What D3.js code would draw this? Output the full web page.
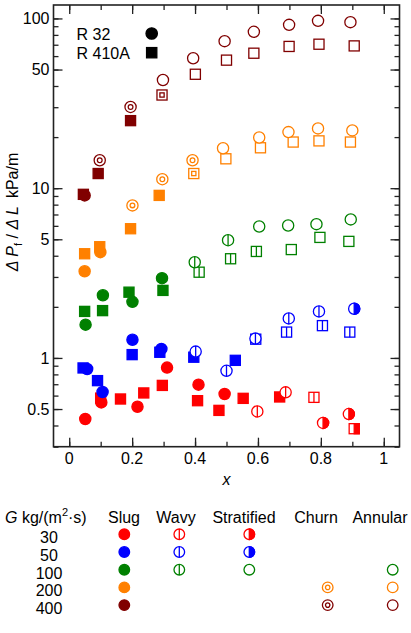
<!DOCTYPE html>
<html>
<head>
<meta charset="utf-8">
<script src="https://cdn.jsdelivr.net/npm/d3@7"></script>
<style>
body { margin: 0; background: #fff; }
text { font-family: "Liberation Sans", Arial, sans-serif; fill: #000; }
</style>
</head>
<body>
<div id="chart"></div>
<script>
var massFlux = [30, 50, 100, 200, 400];
var fluxColors = ["#ff0000", "#0000ff", "#008000", "#ff8000", "#800000"];
var regimes = ["Slug", "Wavy", "Stratified", "Churn", "Annular"];
var refrigerants = ["R 32", "R 410A"];

// symbol of each regime for a G row (null = not observed)
var symbolsG30 = ["filled", "bar", "half", null, null];
var symbolsG50 = ["filled", "bar", "half", null, null];
var symbolsG100 = ["filled", "bar", "open", null, "open"];
var symbolsG200 = ["filled", null, null, "double", "open"];
var symbolsG400 = ["filled", null, null, "double", "open"];

var xTicks = [0, 0.2, 0.4, 0.6, 0.8, 1];
var yTickLabels = [0.5, 1, 5, 10, 50, 100];

// [vapour quality x, dP/dL kPa/m, regime index]
var r32G30 = [[0.051, 0.437, 0], [0.102, 0.547, 0], [0.217, 0.516, 0], [0.311, 0.877, 0], [0.411, 0.696, 0],
  [0.494, 0.613, 0], [0.598, 0.484, 1], [0.688, 0.627, 1], [0.807, 0.414, 2], [0.889, 0.467, 2]];
var r32G50 = [[0.057, 0.861, 0], [0.106, 0.63, 0], [0.201, 1.28, 0], [0.293, 1.13, 0], [0.402, 1.09, 1],
  [0.50, 0.84, 1], [0.592, 1.30, 1], [0.698, 1.71, 1], [0.794, 1.88, 1], [0.906, 1.95, 2]];
var r32G100 = [[0.052, 1.57, 0], [0.107, 2.34, 0], [0.201, 2.14, 0], [0.295, 2.95, 0], [0.399, 3.66, 1],
  [0.505, 4.94, 1], [0.604, 5.95, 4], [0.696, 6.03, 4], [0.786, 6.14, 4], [0.895, 6.55, 4]];
var r32G200 = [[0.049, 3.24, 0], [0.099, 4.20, 0], [0.201, 7.92, 3], [0.296, 11.3, 3], [0.392, 14.6, 3],
  [0.489, 17.2, 4], [0.604, 19.9, 4], [0.697, 21.4, 4], [0.791, 22.5, 4], [0.900, 21.9, 4]];
var r32G400 = [[0.049, 9.07, 0], [0.097, 14.6, 3], [0.195, 30.1, 3], [0.298, 43.4, 4], [0.394, 58.3, 4],
  [0.494, 73.5, 4], [0.587, 83.4, 4], [0.699, 91.7, 4], [0.791, 96.8, 4], [0.894, 95.1, 4]];

var r410aG30 = [[0.100, 0.58, 0], [0.163, 0.573, 0], [0.237, 0.622, 0], [0.296, 0.689, 0], [0.408, 0.56, 0],
  [0.476, 0.491, 0], [0.553, 0.578, 0], [0.669, 0.589, 0], [0.778, 0.586, 1], [0.906, 0.383, 2]];
var r410aG50 = [[0.044, 0.873, 0], [0.090, 0.735, 0], [0.200, 1.046, 0], [0.288, 1.08, 0], [0.396, 1.01, 0],
  [0.528, 0.968, 0], [0.593, 1.29, 1], [0.691, 1.42, 1], [0.805, 1.55, 1], [0.892, 1.42, 1]];
var r410aG100 = [[0.049, 1.88, 0], [0.106, 1.90, 0], [0.190, 2.44, 0], [0.298, 2.50, 0], [0.413, 3.20, 1],
  [0.513, 3.84, 1], [0.595, 4.24, 1], [0.706, 4.35, 4], [0.797, 5.13, 4], [0.889, 4.86, 4]];
var r410aG200 = [[0.049, 4.11, 0], [0.097, 4.52, 0], [0.195, 5.77, 0], [0.286, 9.07, 0], [0.396, 12.2, 3],
  [0.498, 14.9, 4], [0.608, 17.3, 4], [0.712, 18.7, 4], [0.794, 19.0, 4], [0.894, 18.7, 4]];
var r410aG400 = [[0.045, 9.2, 0], [0.092, 12.2, 0], [0.195, 25.0, 0], [0.295, 35.4, 3], [0.401, 46.9, 4],
  [0.50, 56.8, 4], [0.587, 62.4, 4], [0.699, 68.4, 4], [0.794, 70.5, 4], [0.906, 68.9, 4]];

var symbolRows = [symbolsG30, symbolsG50, symbolsG100, symbolsG200, symbolsG400];
var r32Series = [r32G30, r32G50, r32G100, r32G200, r32G400];
var r410aSeries = [r410aG30, r410aG50, r410aG100, r410aG200, r410aG400];

var width = 411, height = 633;
var plot = { left: 53.5, right: 399.5, top: 5, bottom: 446.7 };

var svg = d3.select("#chart").append("svg")
    .attr("width", width)
    .attr("height", height);

var x = d3.scaleLinear().domain([-0.05, 1.05]).range([plot.left, plot.right]);
var y = d3.scaleLog().domain([0.3, 120]).range([plot.bottom, plot.top]);

// draws one marker centred at 0,0 inside g
function drawMarker(g, shape, style, color, r) {
    var sw = 1.3;
    var fill = style === "filled" ? color : "#fff";
    if (shape === "circle") {
        g.append("circle").attr("r", r).attr("fill", fill).attr("stroke", color).attr("stroke-width", sw);
        if (style === "bar") {
            g.append("line").attr("x1", 0).attr("x2", 0).attr("y1", -r).attr("y2", r)
                .attr("stroke", color).attr("stroke-width", sw);
        } else if (style === "half") {
            g.append("path").attr("d", "M0," + (-r) + "A" + r + "," + r + " 0 0 1 0," + r + "Z")
                .attr("fill", color).attr("stroke", color).attr("stroke-width", sw);
        } else if (style === "double") {
            g.append("circle").attr("r", r * 0.42).attr("fill", "none")
                .attr("stroke", color).attr("stroke-width", sw);
        }
    } else {
        var s = r * 0.9;
        g.append("rect").attr("x", -s).attr("y", -s).attr("width", 2 * s).attr("height", 2 * s)
            .attr("fill", fill).attr("stroke", color).attr("stroke-width", sw);
        if (style === "bar") {
            g.append("line").attr("x1", 0).attr("x2", 0).attr("y1", -s).attr("y2", s)
                .attr("stroke", color).attr("stroke-width", sw);
        } else if (style === "half") {
            g.append("rect").attr("x", 0).attr("y", -s).attr("width", s).attr("height", 2 * s)
                .attr("fill", color).attr("stroke", color).attr("stroke-width", sw);
        } else if (style === "double") {
            g.append("rect").attr("x", -s * 0.42).attr("y", -s * 0.42)
                .attr("width", s * 0.84).attr("height", s * 0.84)
                .attr("fill", "none").attr("stroke", color).attr("stroke-width", sw);
        }
    }
}

// axes: ticks point inward on all four sides
var xMinor = d3.range(0, 1.001, 0.1);
var yAll = y.ticks(30);

svg.append("g")
    .attr("transform", "translate(0," + plot.bottom + ")")
    .call(d3.axisTop(x).tickValues(xMinor).tickSize(5).tickFormat(""))
    .call(function (g) { g.select(".domain").remove(); });
svg.append("g")
    .attr("transform", "translate(0," + plot.bottom + ")")
    .call(d3.axisTop(x).tickValues(xTicks).tickSize(9).tickFormat(""))
    .call(function (g) { g.select(".domain").remove(); });
svg.append("g")
    .attr("transform", "translate(0," + plot.top + ")")
    .call(d3.axisBottom(x).tickValues(xMinor).tickSize(5).tickFormat(""))
    .call(function (g) { g.select(".domain").remove(); });
svg.append("g")
    .attr("transform", "translate(0," + plot.top + ")")
    .call(d3.axisBottom(x).tickValues(xTicks).tickSize(9).tickFormat(""))
    .call(function (g) { g.select(".domain").remove(); });

svg.append("g")
    .attr("transform", "translate(" + plot.left + ",0)")
    .call(d3.axisRight(y).tickValues(yAll).tickSize(5).tickFormat(""))
    .call(function (g) { g.select(".domain").remove(); });
svg.append("g")
    .attr("transform", "translate(" + plot.left + ",0)")
    .call(d3.axisRight(y).tickValues(yTickLabels).tickSize(9).tickFormat(""))
    .call(function (g) { g.select(".domain").remove(); });
svg.append("g")
    .attr("transform", "translate(" + plot.right + ",0)")
    .call(d3.axisLeft(y).tickValues(yAll).tickSize(5).tickFormat(""))
    .call(function (g) { g.select(".domain").remove(); });
svg.append("g")
    .attr("transform", "translate(" + plot.right + ",0)")
    .call(d3.axisLeft(y).tickValues(yTickLabels).tickSize(9).tickFormat(""))
    .call(function (g) { g.select(".domain").remove(); });

svg.selectAll(".tick line").attr("stroke", "#222").attr("stroke-width", 1.3);

svg.append("rect")
    .attr("x", plot.left).attr("y", plot.top)
    .attr("width", plot.right - plot.left).attr("height", plot.bottom - plot.top)
    .attr("fill", "none").attr("stroke", "#222").attr("stroke-width", 1.6);

// tick labels
svg.append("g").selectAll("text")
    .data(xTicks).enter().append("text")
    .attr("x", function (d) { return x(d); })
    .attr("y", 463.5)
    .attr("text-anchor", "middle")
    .attr("font-size", 16)
    .text(function (d) { return d; });

svg.append("g").selectAll("text")
    .data(yTickLabels).enter().append("text")
    .attr("x", 49.5)
    .attr("y", function (d) { return y(d); })
    .attr("dy", "0.36em")
    .attr("text-anchor", "end")
    .attr("font-size", 16)
    .text(function (d) { return d; });

// axis titles
svg.append("text")
    .attr("x", x(0.5)).attr("y", 485)
    .attr("text-anchor", "middle")
    .attr("font-size", 16)
    .attr("font-style", "italic")
    .text("x");

var yTitle = svg.append("text")
    .attr("transform", "translate(18,212) rotate(-90)")
    .attr("text-anchor", "middle")
    .attr("font-size", 16);
yTitle.append("tspan").attr("font-style", "italic").text("\u0394 P");
yTitle.append("tspan").attr("font-size", 11).attr("dy", 4).text("f");
yTitle.append("tspan").attr("dy", -4).text(" / ");
yTitle.append("tspan").attr("font-style", "italic").text("\u0394 L");
yTitle.append("tspan").attr("xml:space", "preserve").text("\u2002kPa/m");

// data points: squares (R 410A) first, circles (R 32) on top
function drawSeries(series, shape) {
    series.forEach(function (points, gi) {
        points.forEach(function (p) {
            var g = svg.append("g")
                .attr("transform", "translate(" + x(p[0]) + "," + y(p[1]) + ")");
            drawMarker(g, shape, symbolRows[gi][p[2]], fluxColors[gi], 5.6);
        });
    });
}
drawSeries(r410aSeries, "square");
drawSeries(r32Series, "circle");

// refrigerant legend
refrigerants.forEach(function (name, i) {
    svg.append("text")
        .attr("x", 76.5).attr("y", 39.5 + i * 19.2)
        .attr("font-size", 16)
        .text(name);
    var g = svg.append("g").attr("transform", "translate(151.7," + (33.5 + i * 19.2) + ")");
    drawMarker(g, i === 0 ? "circle" : "square", "filled", "#000", 5.7);
});

// flow regime table
var headerX = [124, 176, 244, 316, 380];
var markerX = [124.3, 179.3, 249.3, 327.7, 392.7];
var rowBase = 543.3, rowStep = 17.7;

var gHead = svg.append("text").attr("x", 5).attr("y", 523).attr("font-size", 16);
gHead.append("tspan").attr("font-style", "italic").text("G");
gHead.append("tspan").text(" kg/(m");
gHead.append("tspan").attr("font-size", 11).attr("dy", -7).text("2");
gHead.append("tspan").attr("dy", 7).text("\u00b7s)");

svg.append("g").selectAll("text")
    .data(regimes).enter().append("text")
    .attr("x", function (d, i) { return headerX[i]; })
    .attr("y", 523)
    .attr("text-anchor", "middle")
    .attr("font-size", 16)
    .text(function (d) { return d; });

massFlux.forEach(function (gv, gi) {
    var yy = rowBase + gi * rowStep;
    svg.append("text")
        .attr("x", 49).attr("y", yy)
        .attr("text-anchor", "middle")
        .attr("font-size", 16)
        .text(gv);
    symbolRows[gi].forEach(function (style, ri) {
        if (!style) return;
        var g = svg.append("g").attr("transform", "translate(" + markerX[ri] + "," + (yy - 9) + ")");
        drawMarker(g, "circle", style, fluxColors[gi], 5.3);
    });
});
</script>
</body>
</html>
